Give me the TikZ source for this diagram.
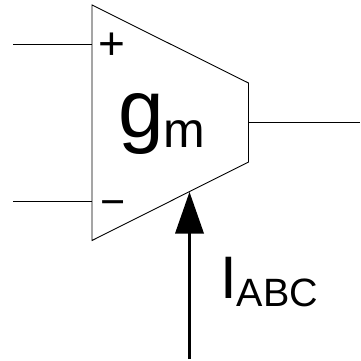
\documentclass[tikz,border=0pt]{standalone}
\usepackage{fontspec}
\setmainfont{Liberation Sans}
\tikzset{wire/.style={draw=black,line width=0.9pt},
lbl/.style={inner sep=0pt,text=black}}
\begin{document}
\begin{tikzpicture}[x=1pt,y=-1pt]
\useasboundingbox (0,0) rectangle (360,361);
\coordinate (tl) at (92,5);
\coordinate (tr) at (248.5,83);
\coordinate (br) at (248.5,162);
\coordinate (bl) at (92,240.5);
\draw[wire] (tl) -- (tr) -- (br) -- (bl) -- cycle;
\coordinate (ip) at (92,44);
\coordinate (im) at (92,201.5);
\coordinate (ipe) at (13,44);
\coordinate (ime) at (13,201.5);
\coordinate (o) at (248.5,122.5);
\coordinate (oe) at (360,122.5);
\draw[wire] (ipe) -- (ip);
\draw[wire] (ime) -- (im);
\draw[wire] (o) -- (oe);
\coordinate (a) at (189.5,192);
\coordinate (ae) at (189.5,359);
\draw[draw=black,line width=2.4pt] (ae) -- (189.5,230);
\fill[black] (a) -- (204,233.5) -- (175,233.5) -- cycle;
\node[lbl,font=\fontsize{46}{46}\selectfont,anchor=base] (plus) at (111.5,59.5) {+};
\node[lbl,font=\fontsize{43}{43}\selectfont,anchor=base] (minus) at (113.5,216.5) {\textminus};
\node[lbl,anchor=base west] (gm) at (118,137) {\fontsize{82}{82}\selectfont g\raisebox{-10.5pt}{\fontsize{50}{50}\selectfont m}};
\node[lbl,anchor=base west] (iabc) at (220,298) {\fontsize{60}{60}\selectfont I\raisebox{-8pt}{\fontsize{39.5}{39.5}\selectfont ABC}};
\end{tikzpicture}
\end{document}
